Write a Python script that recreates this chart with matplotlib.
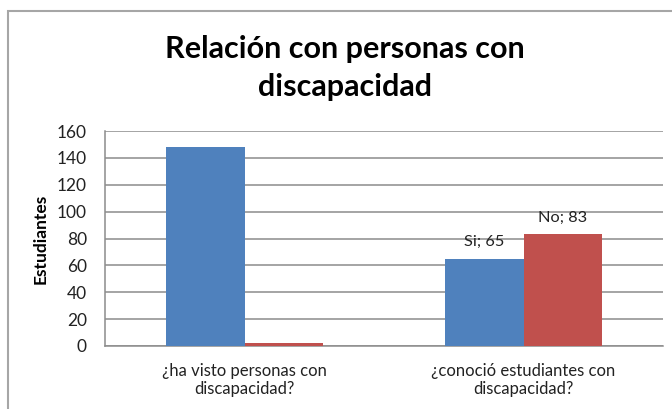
import matplotlib
matplotlib.use("Agg")
import matplotlib.pyplot as plt
from matplotlib.patches import Rectangle

categories = ["¿ha visto personas con\ndiscapacidad?", "¿conoció estudiantes con\ndiscapacidad?"]
si_values = [148, 65]
no_values = [2, 83]
series_names = ["Si", "No"]
yticks = [0, 20, 40, 60, 80, 100, 120, 140, 160]

plt.rcParams['font.family'] = ['Lato', 'DejaVu Sans']

fig = plt.figure(figsize=(6.72, 4.09), dpi=100)
fig.patch.set_facecolor("white")
# outer chart border
fig.add_artist(Rectangle((7.5 / 672, -0.1), 1.2, (409 - 10.5) / 409 + 0.1,
                         transform=fig.transFigure, fill=False,
                         edgecolor="#a6a6a6", linewidth=1.5))

ax = fig.add_axes([105 / 672, 63 / 409, 558 / 672, 215 / 409])
x = list(range(len(categories)))
w = 0.283
blue = "#4F81BD"
red = "#C0504D"
ax.bar([i - w / 2 for i in x], si_values, width=w, color=blue, zorder=3)
ax.bar([i + w / 2 for i in x], no_values, width=w, color=red, zorder=3)

ax.set_xlim(-0.5, 1.5)
ax.set_ylim(0, 160)
ax.set_yticks(yticks)
ax.set_yticklabels([str(t) for t in yticks], fontsize=12.5, color="#222222")
ax.set_xticks(x)
ax.set_xticklabels(categories, fontsize=12, color="#222222", linespacing=1.15)
ax.tick_params(axis="y", length=0, pad=13)
ax.tick_params(axis="x", length=0, pad=12)
ax.grid(axis="y", color="#8c8c8c", linewidth=1.1, zorder=0)
for s in ["top", "right"]:
    ax.spines[s].set_visible(False)
ax.spines["left"].set_color("#8c8c8c")
ax.spines["bottom"].set_color("#8c8c8c")
ax.spines["left"].set_linewidth(1.1)
ax.spines["bottom"].set_linewidth(1.1)

ax.set_ylabel("Estudiantes", fontsize=12.5, fontweight="bold", labelpad=6)

# data labels for second category
ax.annotate(f"{series_names[0]}; {si_values[1]}", (x[1] - w / 2, si_values[1]),
            xytext=(0, 7), textcoords="offset points", ha="center", va="bottom",
            fontsize=11.8, color="#222222")
ax.annotate(f"{series_names[1]}; {no_values[1]}", (x[1] + w / 2, no_values[1]),
            xytext=(0, 7), textcoords="offset points", ha="center", va="bottom",
            fontsize=11.8, color="#222222")

fig.text(345 / 672, 1 - 68 / 409, "Relación con personas con\ndiscapacidad",
         ha="center", va="center", fontsize=22, fontweight="bold",
         linespacing=1.42, color="black")

fig.savefig("out.png", dpi=100, facecolor="white")
